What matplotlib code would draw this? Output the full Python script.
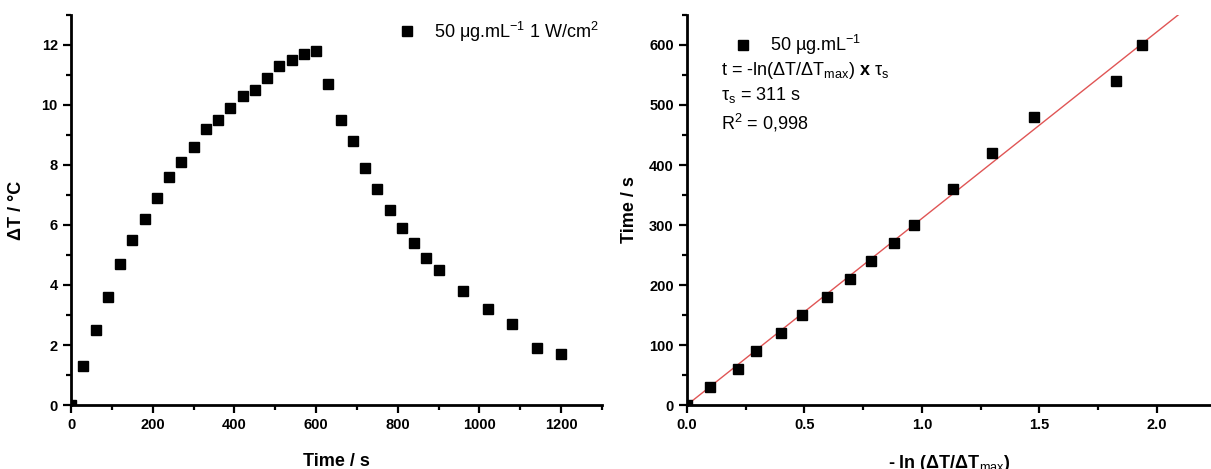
import numpy as np
import matplotlib.pyplot as plt
from matplotlib.ticker import MultipleLocator

plt.rcParams['font.family'] = ['Liberation Sans', 'DejaVu Sans']
plt.rcParams['mathtext.fontset'] = 'custom'
plt.rcParams['mathtext.rm'] = 'Liberation Sans'
plt.rcParams['mathtext.it'] = 'Liberation Sans:italic'
plt.rcParams['mathtext.bf'] = 'Liberation Sans:bold'

# heating / cooling curve
time_s = [0, 30, 60, 90, 120, 150, 180, 210, 240, 270, 300, 330, 360, 390, 420,
          450, 480, 510, 540, 570, 600, 630, 660, 690, 720, 750, 780, 810, 840,
          870, 900, 960, 1020, 1080, 1140, 1200]
delta_t = [0, 1.3, 2.5, 3.6, 4.7, 5.5, 6.2, 6.9, 7.6, 8.1, 8.6, 9.2, 9.5, 9.9, 10.3,
           10.5, 10.9, 11.3, 11.5, 11.7, 11.8, 10.7, 9.5, 8.8, 7.9, 7.2, 6.5, 5.9, 5.4,
           4.9, 4.5, 3.8, 3.2, 2.7, 1.9, 1.7]

# cooling: -ln(dT/dTmax) vs time
neg_ln = [0, 0.098, 0.217, 0.294, 0.40, 0.49, 0.597, 0.693, 0.783, 0.88, 0.965,
          1.13, 1.30, 1.476, 1.825, 1.936]
cool_time = [0, 30, 60, 90, 120, 150, 180, 210, 240, 270, 300, 360, 420, 480, 540, 600]
tau_s = 311

fig = plt.figure(figsize=(12.11, 4.69), dpi=100)
ax1 = fig.add_axes([71 / 1211, 64 / 469, 531 / 1211, 390 / 469])
ax2 = fig.add_axes([687 / 1211, 64 / 469, 524 / 1211, 390 / 469])


def style(ax):
    for s in ['top', 'right']:
        ax.spines[s].set_visible(False)
    for s in ['left', 'bottom']:
        ax.spines[s].set_linewidth(2)
    ax.tick_params(which='major', direction='out', length=6, width=1.6, labelsize=10.5)
    ax.tick_params(which='minor', direction='out', length=3.5, width=1.6)
    for lab in ax.get_xticklabels() + ax.get_yticklabels():
        lab.set_fontweight('bold')


# left panel
ax1.plot(time_s, delta_t, 's', color='black', ms=6.8,
         label='50 \u03bcg.mL$^{-1}$ 1 W/cm$^{2}$')
ax1.set_xlim(0, 1300)
ax1.set_ylim(0, 13)
ax1.xaxis.set_major_locator(MultipleLocator(200))
ax1.xaxis.set_minor_locator(MultipleLocator(100))
ax1.yaxis.set_major_locator(MultipleLocator(2))
ax1.yaxis.set_minor_locator(MultipleLocator(1))
ax1.set_xlabel('Time / s', fontsize=13, fontweight='bold', labelpad=15)
ax1.set_ylabel('\u0394T / \u00b0C', fontsize=13, fontweight='bold', labelpad=12)
ax1.legend(loc='upper right', bbox_to_anchor=(1.025, 1.03), frameon=False, fontsize=13,
           handletextpad=1.0, handlelength=1.0, markerscale=1.1)
style(ax1)

# right panel
fit_x = np.array([0, 2.3])
ax2.plot(fit_x, fit_x * tau_s, color='#e05555', lw=1)
ax2.plot(neg_ln, cool_time, 's', color='black', ms=6.8)
ax2.set_xlim(0, 2.23)
ax2.set_ylim(0, 650)
ax2.xaxis.set_major_locator(MultipleLocator(0.5))
ax2.xaxis.set_minor_locator(MultipleLocator(0.25))
ax2.yaxis.set_major_locator(MultipleLocator(100))
ax2.yaxis.set_minor_locator(MultipleLocator(50))
ax2.set_xlabel('- ln (\u0394T/\u0394T$_{\\mathrm{max}}$)', fontsize=13, fontweight='bold',
               labelpad=15)
ax2.set_ylabel('Time / s', fontsize=13, fontweight='bold', labelpad=8)
style(ax2)

ax2.plot([0.239], [600], 's', color='black', ms=7.5)
ax2.text(0.355, 600, '50 \u00b5g.mL$^{-1}$', fontsize=13, va='center')
ax2.text(0.145, 558, 't = -ln(\u0394T/\u0394T$_{\\mathrm{max}}$) $\\mathbf{x}$ \u03c4$_{\\mathrm{s}}$',
         fontsize=13, va='center')
ax2.text(0.145, 516, '\u03c4$_{\\mathrm{s}}$ = 311 s', fontsize=13, va='center')
ax2.text(0.145, 470, 'R$^{2}$ = 0,998', fontsize=13, va='center')

fig.savefig('out.png', dpi=100)
